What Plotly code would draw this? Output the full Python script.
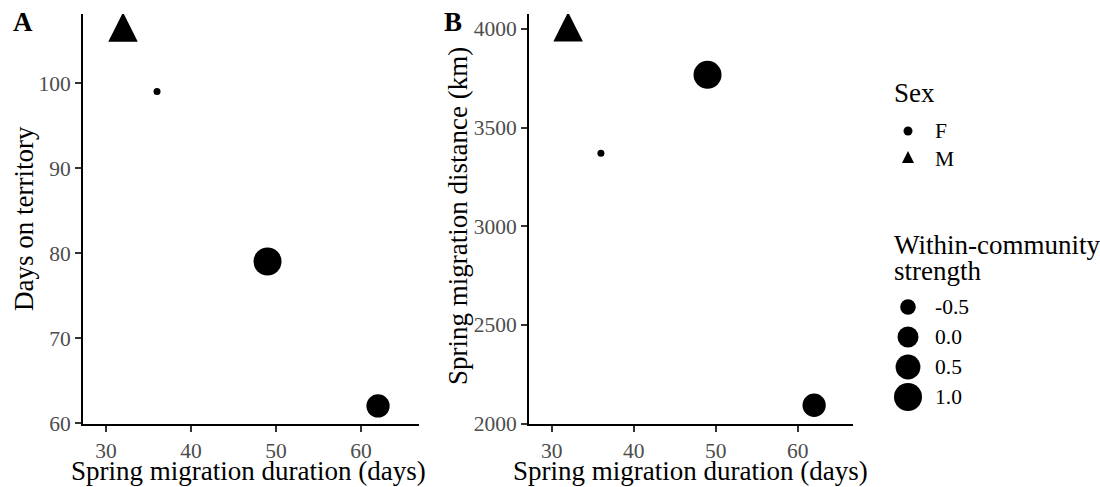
import numpy as np
import plotly.graph_objects as go

# ---- data -------------------------------------------------------------
duration_days = [32, 36, 49, 62]
days_on_territory = [106, 99, 79, 62]
distance_km = [3985, 3370, 3767, 2093]
sex = ["M", "F", "F", "F"]
strength = [0.1, -0.8, 1.0, 0.28]

sex_levels = ["F", "M"]
size_breaks = [-0.5, 0.0, 0.5, 1.0]
size_labels = ["-0.5", "0.0", "0.5", "1.0"]

x_ticks = [30, 40, 50, 60]
days_ticks = [60, 70, 80, 90, 100]
dist_ticks = [2000, 2500, 3000, 3500, 4000]

# ---- styling ----------------------------------------------------------
W, H = 1100, 487
SERIF = "Liberation Serif"
TITLE_SIZE = 27
TICK_SIZE = 21.5
TICK_COLOR = "#4D4D4D"

S_MIN, S_MAX = min(strength), max(strength)


def diameter(v):
    """Area-proportional size scale (px diameter of a filled circle)."""
    return 7 + 21 * np.sqrt((np.asarray(v, float) - S_MIN) / (S_MAX - S_MIN))


TRI_SCALE = 1.35  # a filled triangle is wider than a circle of the same size


def px_x(p):
    return p / W


def px_y(p):
    return 1 - p / H


def marker_style(values, shape):
    d = diameter(values)
    if shape == "circle":
        return dict(symbol="circle", size=d, color="black", opacity=1,
                    line=dict(width=0))
    s = d * TRI_SCALE
    # upward equilateral-ish triangle centred on its centroid
    return dict(symbol="arrow-down", angle=180, standoff=s * 2 / 3,
                size=s, color="black", opacity=1, line=dict(width=0))


fig = go.Figure()

panels = [("x", "y", days_on_territory), ("x2", "y2", distance_km)]
for xa, ya, yvals in panels:
    for level, shape in (("F", "circle"), ("M", "triangle")):
        idx = [i for i, s in enumerate(sex) if s == level]
        fig.add_trace(go.Scatter(
            x=[duration_days[i] for i in idx],
            y=[yvals[i] for i in idx],
            mode="markers",
            marker=marker_style([strength[i] for i in idx], shape),
            xaxis=xa, yaxis=ya, showlegend=False, hoverinfo="skip",
        ))

# ---- legend keys drawn on their own pixel-space axes -------------------
LEG_KEY_X = 908
sex_rows = [131, 159]
size_rows = [307, 337, 367, 397]
for level, row in zip(sex_levels, sex_rows):
    if level == "F":
        mk = dict(symbol="circle", size=9, color="black", opacity=1,
                  line=dict(width=0))
    else:
        mk = dict(symbol="arrow-down", angle=180, standoff=8, size=12,
                  color="black", opacity=1, line=dict(width=0))
    fig.add_trace(go.Scatter(x=[LEG_KEY_X], y=[row], mode="markers", marker=mk,
                             xaxis="x3", yaxis="y3", showlegend=False,
                             hoverinfo="skip"))
fig.add_trace(go.Scatter(
    x=[LEG_KEY_X] * len(size_breaks), y=size_rows, mode="markers",
    marker=dict(symbol="circle", size=diameter(size_breaks), color="black",
                opacity=1, line=dict(width=0)),
    xaxis="x3", yaxis="y3", showlegend=False, hoverinfo="skip"))

annotations = []
LEG_TEXT_X = 933
for level, row in zip(sex_levels, sex_rows):
    annotations.append(dict(x=LEG_TEXT_X, y=row, xref="x3", yref="y3", text=level,
                            xanchor="left", yanchor="middle", showarrow=False,
                            font=dict(family=SERIF, size=TICK_SIZE, color="black")))
for lab, row in zip(size_labels, size_rows):
    annotations.append(dict(x=LEG_TEXT_X, y=row, xref="x3", yref="y3", text=lab,
                            xanchor="left", yanchor="middle", showarrow=False,
                            font=dict(family=SERIF, size=TICK_SIZE, color="black")))
for txt, row in (("Sex", 93), ("Within-community", 245), ("strength", 271)):
    annotations.append(dict(x=892, y=row, xref="x3", yref="y3", text=txt,
                            xanchor="left", yanchor="middle", showarrow=False,
                            font=dict(family=SERIF, size=TITLE_SIZE, color="black")))

# ---- axis titles and panel tags ---------------------------------------
title_font = dict(family=SERIF, size=TITLE_SIZE, color="black")
for cx in (249, 690):
    annotations.append(dict(x=px_x(cx), y=px_y(471), xref="paper", yref="paper",
                            text="Spring migration duration (days)", showarrow=False,
                            xanchor="center", yanchor="middle", font=title_font))
annotations.append(dict(x=px_x(24), y=px_y(219), xref="paper", yref="paper",
                        text="Days on territory", textangle=-90, showarrow=False,
                        xanchor="center", yanchor="middle", font=title_font))
annotations.append(dict(x=px_x(458), y=px_y(216), xref="paper", yref="paper",
                        text="Spring migration distance (km)", textangle=-90,
                        showarrow=False, xanchor="center", yanchor="middle",
                        font=title_font))
for tag, tx in (("A", 11), ("B", 442)):
    annotations.append(dict(x=px_x(tx), y=px_y(22), xref="paper", yref="paper",
                            text=f"<b>{tag}</b>", showarrow=False,
                            xanchor="left", yanchor="middle",
                            font=dict(family=SERIF, size=TITLE_SIZE, color="black")))

axis_common = dict(
    showline=True, linecolor="black", linewidth=1.8,
    ticks="outside", ticklen=6, tickwidth=1.5, tickcolor="#333333",
    tickfont=dict(family=SERIF, size=TICK_SIZE, color=TICK_COLOR),
    showgrid=False, zeroline=False, automargin=False,
)
y_dom = [px_y(424), px_y(14)]

fig.update_layout(
    width=W, height=H, autosize=False,
    margin=dict(l=0, r=0, t=0, b=0),
    paper_bgcolor="white", plot_bgcolor="white",
    showlegend=False,
    xaxis=dict(domain=[px_x(83), px_x(419)], range=[27.29, 66.82],
               tickvals=x_ticks, anchor="y", **axis_common),
    yaxis=dict(domain=y_dom, range=[59.88, 108.12],
               tickvals=days_ticks, anchor="x", **axis_common),
    xaxis2=dict(domain=[px_x(529), px_x(853)], range=[27.23, 66.74],
                tickvals=x_ticks, anchor="y2", **axis_common),
    yaxis2=dict(domain=y_dom, range=[1998, 4075],
                tickvals=dist_ticks, anchor="x2", **axis_common),
    xaxis3=dict(domain=[px_x(860), 1], range=[860, 1100], visible=False,
                anchor="y3", fixedrange=True),
    yaxis3=dict(domain=[0, 1], range=[H, 0], visible=False, anchor="x3",
                fixedrange=True),
    annotations=annotations,
)

fig.write_html("out.html")
